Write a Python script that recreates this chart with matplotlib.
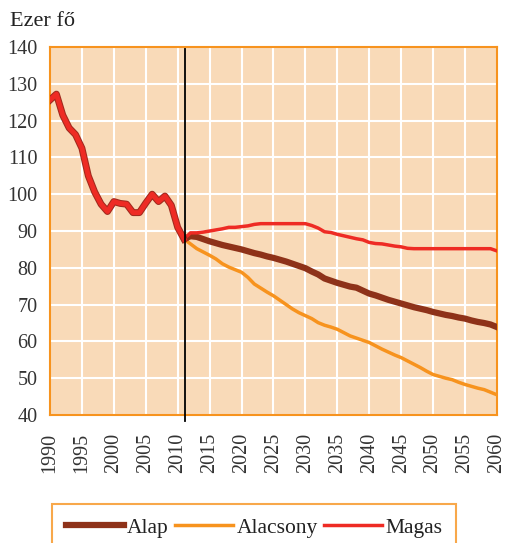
import numpy as np
import matplotlib.pyplot as plt
import matplotlib.patheffects as pe

plt.rcParams['font.family'] = ['Liberation Serif', 'DejaVu Serif']

# historical data 1990-2011 (thousand persons)
hist_years = np.arange(1990, 2012)
hist_vals = [125.6, 127.2, 121.5, 118.0, 116.2, 112.5, 105.0, 100.6, 97.3, 95.3,
             98.0, 97.5, 97.3, 95.0, 95.0, 97.6, 100.0, 98.0, 99.5, 97.0,
             91.0, 87.8]

# projections 2011-2060
proj_years = np.arange(2011, 2061)
alap = [87.8, 88.6, 88.4, 87.8, 87.2, 86.7, 86.2, 85.8, 85.4, 85.0,
        84.5, 84.0, 83.6, 83.1, 82.7, 82.2, 81.7, 81.1, 80.5, 79.9,
        79.0, 78.2, 77.1, 76.5, 75.9, 75.4, 74.9, 74.6, 73.8, 73.0,
        72.5, 71.9, 71.3, 70.8, 70.3, 69.8, 69.3, 68.9, 68.5, 68.0,
        67.6, 67.2, 66.9, 66.5, 66.2, 65.7, 65.3, 65.0, 64.6, 63.9]
alacsony = [87.8, 86.5, 85.2, 84.3, 83.4, 82.4, 81.1, 80.2, 79.5, 78.8,
            77.4, 75.6, 74.5, 73.4, 72.4, 71.2, 70.0, 68.8, 67.8, 67.0,
            66.2, 65.1, 64.4, 63.9, 63.3, 62.4, 61.5, 60.9, 60.3, 59.7,
            58.8, 57.9, 57.1, 56.3, 55.6, 54.7, 53.8, 52.9, 51.9, 51.0,
            50.5, 50.0, 49.6, 48.9, 48.3, 47.8, 47.3, 46.9, 46.2, 45.5]
magas = [87.8, 89.5, 89.5, 89.7, 90.0, 90.3, 90.6, 91.0, 91.0, 91.2,
         91.4, 91.8, 92.0, 92.0, 92.0, 92.0, 92.0, 92.0, 92.0, 92.0,
         91.5, 90.8, 89.8, 89.6, 89.1, 88.7, 88.3, 87.9, 87.6, 86.9,
         86.6, 86.5, 86.2, 85.9, 85.7, 85.3, 85.2, 85.2, 85.2, 85.2,
         85.2, 85.2, 85.2, 85.2, 85.2, 85.2, 85.2, 85.2, 85.2, 84.6]

base_year = 2011
c_alap = '#8e3219'
c_alac = '#f7931e'
c_mag = '#ee2b24'
c_bg = '#f9dab8'

fig = plt.figure(figsize=(5.05, 5.43), dpi=100)
ax = fig.add_axes([0.099, 0.2357, 0.885, 0.6777])
ax.set_facecolor(c_bg)

ax.set_xlim(1990, 2060)
ax.set_ylim(40, 140)
ax.set_xticks(np.arange(1990, 2061, 5))
ax.set_yticks(np.arange(40, 141, 10))
ax.grid(True, color='white', linewidth=1.5)
ax.set_axisbelow(True)
for s in ax.spines.values():
    s.set_color(c_alac)
    s.set_linewidth(1.5)
ax.tick_params(length=0, labelsize=14.5, colors='#333333')
ax.tick_params(axis='x', rotation=90, pad=13)
ax.tick_params(axis='y', pad=9)

ax.plot(proj_years, alacsony, color=c_alac, linewidth=2.5, label='Alacsony', zorder=3)
ax.plot(proj_years, alap, color=c_alap, linewidth=4.5, label='Alap', zorder=4)
ax.plot(proj_years, magas, color=c_mag, linewidth=2.5, label='Magas', zorder=5)
ax.plot(hist_years, hist_vals, color=c_mag, linewidth=3.5, zorder=6,
        path_effects=[pe.Stroke(linewidth=5, foreground='#a02a1e'), pe.Normal()])

ax.axvline(base_year + 0.1, ymin=-0.015, ymax=0.995, color='black', linewidth=1.3,
           clip_on=False, zorder=7)

fig.text(0.02, 0.96, 'Ezer fő', fontsize=16, color='#222222', va='center')

h, l = ax.get_legend_handles_labels()
order = [1, 0, 2]
leg = fig.legend([h[i] for i in order], [l[i] for i in order], ncol=3,
                 loc='upper left', bbox_to_anchor=(0.102, 0.072),
                 fontsize=15.5, frameon=True, fancybox=False,
                 handlelength=2.7, handletextpad=0.15, columnspacing=0.3,
                 borderpad=0.65, borderaxespad=0)
leg.get_frame().set_edgecolor(c_alac)
leg.get_frame().set_linewidth(1.5)
for t in leg.get_texts():
    t.set_color('#222222')

plt.savefig('out.png', dpi=100)
